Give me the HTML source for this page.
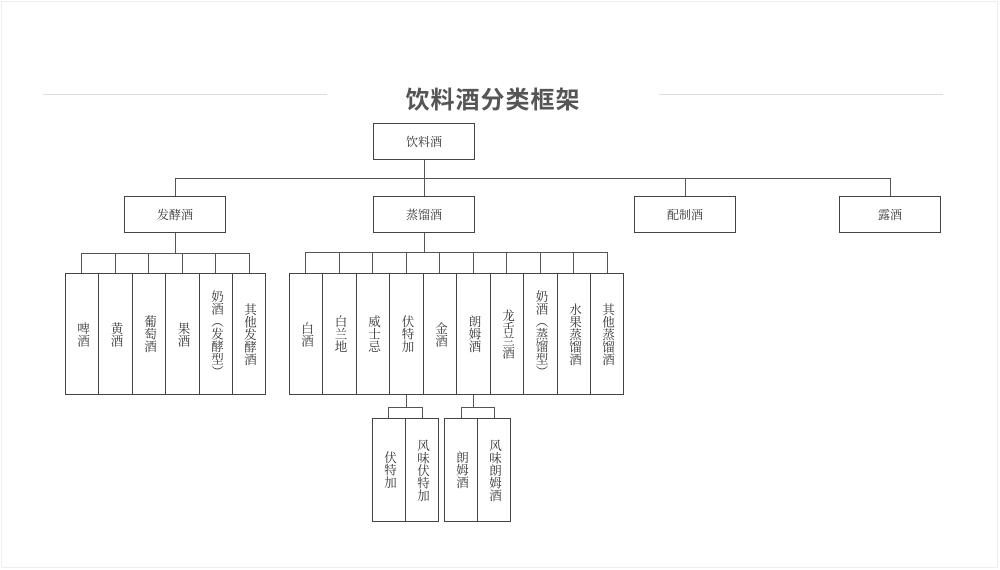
<!DOCTYPE html>
<html><head><meta charset="utf-8"><style>
body{margin:0;width:1000px;height:570px;background:#fff;position:relative;overflow:hidden;font-family:"Liberation Serif","Noto Serif CJK SC",serif;color:#333}
.b{position:absolute;box-sizing:border-box;border:1px solid #444;display:flex;align-items:center;justify-content:center;font-size:12px;background:#fff}
.v span{writing-mode:vertical-rl;text-orientation:mixed;line-height:13px;font-size:12.5px}
svg{position:absolute;left:0;top:0}
.t{position:absolute;left:0;width:986px;top:80px;text-align:center;font:bold 24px "Liberation Sans","Noto Sans CJK SC",sans-serif;color:#555;letter-spacing:1px}
</style></head><body>
<div style="position:absolute;left:1px;top:1px;width:997px;height:567px;border:1px solid #eee;box-sizing:border-box"></div>
<svg width="1000" height="570">
<g stroke="#ddd" stroke-width="1"><line x1="43" y1="94.5" x2="327" y2="94.5"/><line x1="659" y1="94.5" x2="943" y2="94.5"/></g>
<g stroke="#555" stroke-width="1" fill="none">
<line x1="424.5" y1="160" x2="424.5" y2="196"/>
<line x1="175.5" y1="178.5" x2="890.5" y2="178.5"/>
<line x1="175.5" y1="178" x2="175.5" y2="196"/>
<line x1="685.5" y1="178" x2="685.5" y2="196"/>
<line x1="890.5" y1="178" x2="890.5" y2="196"/>
<line x1="175.5" y1="232" x2="175.5" y2="253"/>
<line x1="81.5" y1="253.5" x2="249.5" y2="253.5"/>
<line x1="81.5" y1="253" x2="81.5" y2="273"/><line x1="115.5" y1="253" x2="115.5" y2="273"/><line x1="148.5" y1="253" x2="148.5" y2="273"/><line x1="182.5" y1="253" x2="182.5" y2="273"/><line x1="215.5" y1="253" x2="215.5" y2="273"/><line x1="249.5" y1="253" x2="249.5" y2="273"/>
<line x1="424.5" y1="232" x2="424.5" y2="252"/>
<line x1="305.5" y1="252.5" x2="607.5" y2="252.5"/>
<line x1="305.5" y1="252" x2="305.5" y2="273"/><line x1="339.5" y1="252" x2="339.5" y2="273"/><line x1="372.5" y1="252" x2="372.5" y2="273"/><line x1="406.5" y1="252" x2="406.5" y2="273"/><line x1="439.5" y1="252" x2="439.5" y2="273"/><line x1="473.5" y1="252" x2="473.5" y2="273"/><line x1="506.5" y1="252" x2="506.5" y2="273"/><line x1="540.5" y1="252" x2="540.5" y2="273"/><line x1="573.5" y1="252" x2="573.5" y2="273"/><line x1="607.5" y1="252" x2="607.5" y2="273"/>
<line x1="406.5" y1="394" x2="406.5" y2="407"/><line x1="388.5" y1="407.5" x2="422.5" y2="407.5"/><line x1="388.5" y1="407" x2="388.5" y2="418"/><line x1="422.5" y1="407" x2="422.5" y2="418"/>
<line x1="473.5" y1="394" x2="473.5" y2="407"/><line x1="461.5" y1="407.5" x2="494.5" y2="407.5"/><line x1="461.5" y1="407" x2="461.5" y2="418"/><line x1="494.5" y1="407" x2="494.5" y2="418"/>
</g></svg>
<div class="t">饮料酒分类框架</div>
<div class="b" style="left:373px;top:123px;width:102px;height:37px">饮料酒</div>
<div class="b" style="left:124px;top:196px;width:102px;height:37px">发酵酒</div>
<div class="b" style="left:373px;top:196px;width:102px;height:37px">蒸馏酒</div>
<div class="b" style="left:634px;top:196px;width:102px;height:37px">配制酒</div>
<div class="b" style="left:839px;top:196px;width:102px;height:37px">露酒</div>

<div class="b v" style="left:65px;top:273px;width:34px;height:122px"><span>啤酒</span></div>
<div class="b v" style="left:98px;top:273px;width:35px;height:122px"><span>黄酒</span></div>
<div class="b v" style="left:132px;top:273px;width:34px;height:122px"><span>葡萄酒</span></div>
<div class="b v" style="left:165px;top:273px;width:35px;height:122px"><span>果酒</span></div>
<div class="b v" style="left:199px;top:273px;width:34px;height:122px"><span>奶酒（发酵型）</span></div>
<div class="b v" style="left:232px;top:273px;width:34px;height:122px"><span>其他发酵酒</span></div>

<div class="b v" style="left:289px;top:273px;width:34px;height:122px"><span>白酒</span></div>
<div class="b v" style="left:322px;top:273px;width:35px;height:122px"><span>白兰地</span></div>
<div class="b v" style="left:356px;top:273px;width:34px;height:122px"><span>威士忌</span></div>
<div class="b v" style="left:389px;top:273px;width:35px;height:122px"><span>伏特加</span></div>
<div class="b v" style="left:423px;top:273px;width:34px;height:122px"><span>金酒</span></div>
<div class="b v" style="left:456px;top:273px;width:35px;height:122px"><span>朗姆酒</span></div>
<div class="b v" style="left:490px;top:273px;width:34px;height:122px"><span>龙舌兰酒</span></div>
<div class="b v" style="left:523px;top:273px;width:35px;height:122px"><span>奶酒（蒸馏型）</span></div>
<div class="b v" style="left:557px;top:273px;width:34px;height:122px"><span>水果蒸馏酒</span></div>
<div class="b v" style="left:590px;top:273px;width:34px;height:122px"><span>其他蒸馏酒</span></div>

<div class="b v" style="left:372px;top:418px;width:34px;height:104px"><span>伏特加</span></div>
<div class="b v" style="left:405px;top:418px;width:34px;height:104px"><span>风味伏特加</span></div>
<div class="b v" style="left:444px;top:418px;width:34px;height:104px"><span>朗姆酒</span></div>
<div class="b v" style="left:477px;top:418px;width:34px;height:104px"><span>风味朗姆酒</span></div>
</body></html>
